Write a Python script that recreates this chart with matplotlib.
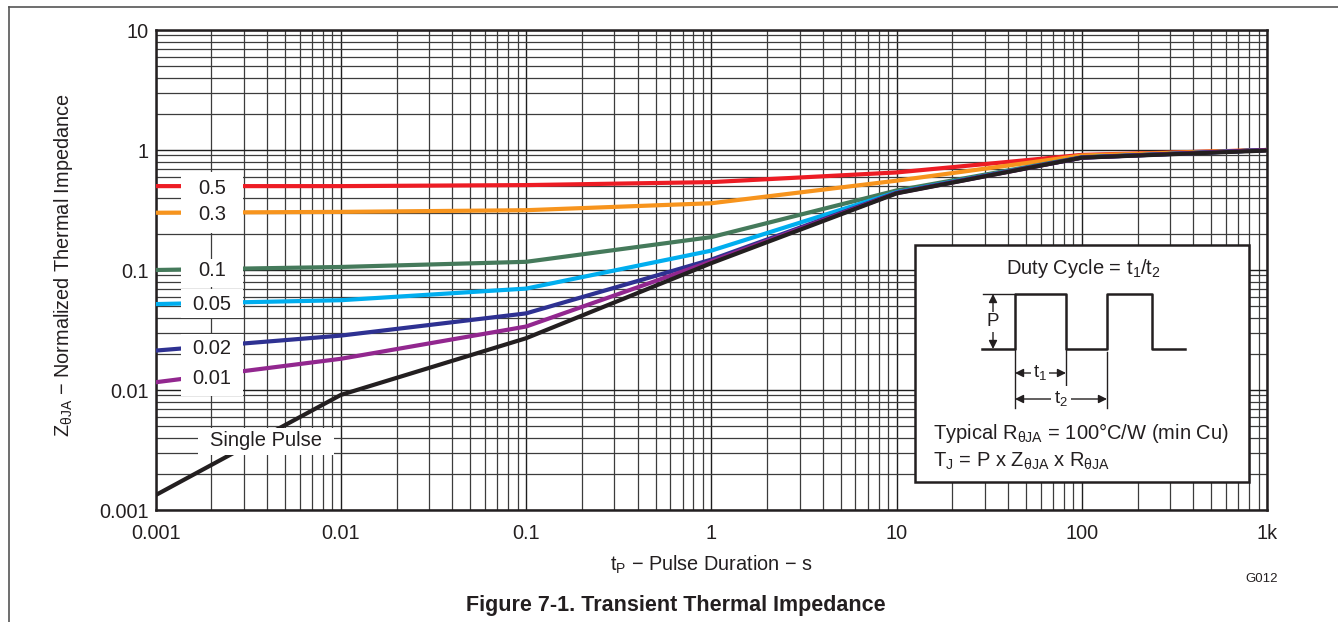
import numpy as np
import matplotlib
matplotlib.use("Agg")
import matplotlib.pyplot as plt
from matplotlib.ticker import LogLocator, NullFormatter
from matplotlib.patches import Rectangle
from matplotlib.lines import Line2D

plt.rcParams['font.family'] = ['Liberation Sans', 'DejaVu Sans']
plt.rcParams['mathtext.fontset'] = 'custom'
plt.rcParams['mathtext.rm'] = 'Liberation Sans'
plt.rcParams['mathtext.it'] = 'Liberation Sans'
plt.rcParams['mathtext.default'] = 'regular'

# -------------------------
# data
# -------------------------
t_pulse = [0.001, 0.01, 0.1, 1, 10, 100, 1000]

z_05 = [0.50, 0.50, 0.51, 0.54, 0.65, 0.91, 1.0]
z_03 = [0.30, 0.305, 0.315, 0.36, 0.555, 0.90, 1.0]
z_01 = [0.10, 0.106, 0.117, 0.188, 0.46, 0.87, 1.0]
z_005 = [0.052, 0.056, 0.070, 0.145, 0.445, 0.865, 1.0]
z_002 = [0.0213, 0.0284, 0.0435, 0.122, 0.44, 0.865, 1.0]
z_001 = [0.0116, 0.0182, 0.0338, 0.118, 0.437, 0.863, 1.0]
z_single = [0.00133, 0.0091, 0.027, 0.114, 0.435, 0.863, 0.99]

curve_labels = ["0.5", "0.3", "0.1", "0.05", "0.02", "0.01", "Single Pulse"]
curve_colors = ["#ED1C24", "#F7941D", "#457A5B", "#00AEEF", "#2E3192", "#92278F", "#231F20"]

xtick_vals = [0.001, 0.01, 0.1, 1, 10, 100, 1000]
xtick_text = ["0.001", "0.01", "0.1", "1", "10", "100", "1k"]
ytick_vals = [0.001, 0.01, 0.1, 1, 10]
ytick_text = ["0.001", "0.01", "0.1", "1", "10"]

W, H = 1338, 622
FS = 14.3
fig = plt.figure(figsize=(W / 100, H / 100), dpi=100)

# plot area in pixels: x 155.6..1267, y 30..510
ax = fig.add_axes([155.6 / W, 1 - 510 / H, (1267 - 155.6) / W, 480 / H])
ax.set_xscale("log")
ax.set_yscale("log")
ax.set_xlim(0.001, 1000)
ax.set_ylim(0.001, 10)

ax.xaxis.set_minor_locator(LogLocator(base=10, subs=np.arange(2, 10)))
ax.yaxis.set_minor_locator(LogLocator(base=10, subs=np.arange(2, 10)))
ax.xaxis.set_minor_formatter(NullFormatter())
ax.yaxis.set_minor_formatter(NullFormatter())
ax.set_xticks(xtick_vals, xtick_text)
ax.set_yticks(ytick_vals, ytick_text)
ax.tick_params(which="both", length=0, labelsize=FS, colors="#231F20")
ax.tick_params(axis="x", pad=10)
ax.tick_params(axis="y", pad=5)
ax.set_axisbelow(True)
ax.grid(which="major", color="#1e1e1e", lw=1.0)
ax.grid(which="minor", color="#3c3c3c", lw=0.9)
for s in ax.spines.values():
    s.set_linewidth(1.8)
    s.set_color("#231F20")

series = [z_05, z_03, z_01, z_005, z_002, z_001, z_single]
for vals, col in zip(series, curve_colors):
    ax.plot(t_pulse, vals, color=col, lw=3.0, solid_joinstyle="round", zorder=3)

ax.set_ylabel("Z$_{θJA}$ − Normalized Thermal Impedance", fontsize=FS, color="#231F20")
ax.yaxis.set_label_coords(-0.0725, 0.51)
ax.set_xlabel("t$_P$ − Pulse Duration − s", fontsize=FS, color="#231F20")
ax.xaxis.set_label_coords(0.5, -0.09)

# overlay in pixel coordinates for label boxes, inset and page frame
ov = fig.add_axes([0, 0, 1, 1], zorder=5)
ov.set_xlim(0, W)
ov.set_ylim(H, 0)
ov.axis("off")
ov.patch.set_alpha(0)

ov.add_line(Line2D([9, W], [7, 7], color="#555555", lw=1.2))
ov.add_line(Line2D([9, 9], [7, H], color="#555555", lw=1.2))

# white boxes behind the curve labels (x0, y0, x1, y1 in pixels)
label_boxes = [(181, 172, 243, 233), (181, 259, 243, 287), (181, 289, 243, 318),
               (181, 334, 243, 396), (198, 428, 334, 455)]
for x0, y0, x1, y1 in label_boxes:
    ov.add_patch(Rectangle((x0, y0), x1 - x0, y1 - y0, fc="white", ec="none"))

# label centres in pixels
label_pos = [(212, 188), (212, 214), (212, 270), (212, 304), (212, 348), (212, 378), (266, 441)]
for lab, (lx, ly) in zip(curve_labels, label_pos):
    ov.text(lx, ly, lab, ha="center", va="center", fontsize=14.5, color="#231F20")

ov.add_patch(Rectangle((915, 245), 334, 237, fc="white", ec="#231F20", lw=1.8))
k = "#231F20"
ov.text(1083, 268, "Duty Cycle = t$_1$/t$_2$", ha="center", va="center", fontsize=14.5, color=k)
wave_x = [982, 1015, 1015, 1066, 1066, 1107, 1107, 1152, 1152, 1185]
wave_y = [349, 349, 294, 294, 349, 349, 294, 294, 349, 349]
ov.plot(wave_x, wave_y, color=k, lw=1.8)
ov.plot([983, 1015], [294, 294], color=k, lw=1.0)
ov.annotate("", xy=(993, 294), xytext=(993, 349),
            arrowprops=dict(arrowstyle="<|-|>,head_length=0.5,head_width=0.25", color=k, lw=1.0,
                            shrinkA=0, shrinkB=0))
ov.text(993, 322, "P", ha="center", va="center", fontsize=13.5, color=k,
        bbox=dict(boxstyle="square,pad=0.1", fc="white", ec="none"))
ov.plot([1015, 1015], [349, 408], color=k, lw=1.0)
ov.plot([1066, 1066], [349, 385], color=k, lw=1.0)
ov.plot([1107, 1107], [352, 408], color=k, lw=1.0)
ov.annotate("", xy=(1015, 373), xytext=(1066, 373),
            arrowprops=dict(arrowstyle="<|-|>,head_length=0.5,head_width=0.25", color=k, lw=1.0,
                            shrinkA=0, shrinkB=0))
ov.text(1040, 372, "t$_1$", ha="center", va="center", fontsize=13.5, color=k,
        bbox=dict(boxstyle="square,pad=0.1", fc="white", ec="none"))
ov.annotate("", xy=(1015, 399), xytext=(1107, 399),
            arrowprops=dict(arrowstyle="<|-|>,head_length=0.5,head_width=0.25", color=k, lw=1.0,
                            shrinkA=0, shrinkB=0))
ov.text(1061, 398, "t$_2$", ha="center", va="center", fontsize=13.5, color=k,
        bbox=dict(boxstyle="square,pad=0.15", fc="white", ec="none"))
ov.text(933, 433, "Typical R$_{θJA}$ = 100°C/W (min Cu)", ha="left", va="center", fontsize=14.5, color=k)
ov.text(933, 461, "T$_J$ = P x Z$_{θJA}$ x R$_{θJA}$", ha="left", va="center", fontsize=14.5, color=k)

ov.text(1262, 579, "G012", ha="center", va="center", fontsize=9.5, color=k)
ov.text(676, 606, "Figure 7-1. Transient Thermal Impedance", ha="center", va="center",
        fontsize=15.5, fontweight="bold", color=k)

fig.savefig("out.png", dpi=100)
